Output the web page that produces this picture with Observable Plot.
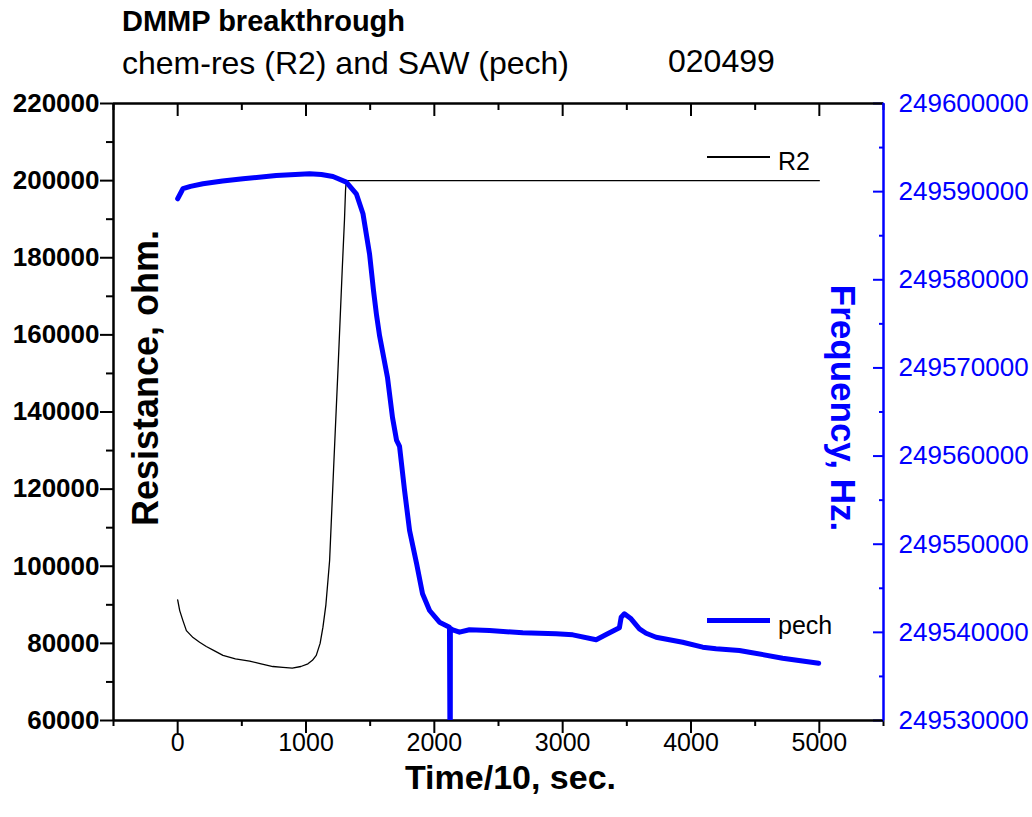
<!DOCTYPE html>
<html>
<head>
<meta charset="utf-8">
<script src="https://cdn.jsdelivr.net/npm/d3@7"></script>
<script src="https://cdn.jsdelivr.net/npm/@observablehq/plot@0.6"></script>
<style>
  html, body { margin: 0; padding: 0; background: #fff; }
  #wrap { position: relative; width: 1032px; height: 817px; font-family: "Liberation Sans", Arial, sans-serif; }
  #wrap svg { position: absolute; left: 0; top: 0; }
  .t { position: absolute; white-space: nowrap; line-height: 1; }
  .sw { position: absolute; }
</style>
</head>
<body>
<div id="wrap">
  <div class="t" style="left:122px; top:7px; font-size:29px; font-weight:bold; color:#000;">DMMP breakthrough</div>
  <div class="t" style="left:122px; top:47px; font-size:32px; color:#000;">chem-res (R2) and SAW (pech)</div>
  <div class="t" style="left:668px; top:45px; font-size:32px; color:#000;">020499</div>
</div>
<script>
// ---- data ----
const timeR2 = [0, 16, 41, 68, 120, 171, 223, 280, 353, 450, 561, 650, 742, 820, 893, 960, 1015, 1050, 1080, 1110, 1132, 1155, 1171, 1184, 1215, 1249, 1282, 1300, 1308, 1314, 5000];
const ohmR2  = [91300, 88500, 85900, 83300, 81500, 80300, 79200, 78200, 76900, 76000, 75400, 74700, 74000, 73800, 73600, 74000, 74700, 75600, 76900, 80000, 84200, 90000, 96300, 101500, 125300, 150800, 176700, 190000, 197500, 200000, 200000];

const timePech = [0, 41, 100, 197, 350, 509, 768, 1028, 1120, 1210, 1314, 1392, 1444, 1495, 1526, 1550, 1573, 1635, 1674, 1706, 1729, 1768, 1807, 1862, 1908, 1963, 2040, 2118, 2124, 2125, 2144, 2196, 2274, 2430, 2689, 2949, 3079, 3261, 3339, 3442, 3456, 3481, 3533, 3598, 3650, 3728, 3935, 4091, 4195, 4377, 4455, 4714, 4995];
const hzPech = [249589190, 249590330, 249590600, 249590890, 249591200, 249591460, 249591840, 249592030, 249591950, 249591720, 249591080, 249589760, 249587490, 249582950, 249578790, 249575950, 249573680, 249568920, 249564380, 249561770, 249561090, 249556100, 249551560, 249547780, 249544380, 249542480, 249541150, 249540590, 249520000, 249540450, 249540290, 249540020, 249540290, 249540210, 249539950, 249539840, 249539720, 249539160, 249539760, 249540520, 249541720, 249542110, 249541540, 249540400, 249539900, 249539450, 249538880, 249538320, 249538140, 249537940, 249537750, 249537070, 249536500];

const xMajor = [0, 1000, 2000, 3000, 4000, 5000];
const xMinor = [-500, 500, 1500, 2500, 3500, 4500, 5500];
const yMajor = [60000, 80000, 100000, 120000, 140000, 160000, 180000, 200000, 220000];
const yMinor = [70000, 90000, 110000, 130000, 150000, 170000, 190000, 210000];
const fMajor = [249530000, 249540000, 249550000, 249560000, 249570000, 249580000, 249590000, 249600000];
const fMinor = [249535000, 249545000, 249555000, 249565000, 249575000, 249585000, 249595000];

const xDomain = [-500, 5500];
const rDomain = [60000, 220000];
const fDomain = [249530000, 249600000];

// map frequency onto the resistance scale (dual axis)
const fToR = f => rDomain[0] + (f - fDomain[0]) * (rDomain[1] - rDomain[0]) / (fDomain[1] - fDomain[0]);
const rToF = r => Math.round(fDomain[0] + (r - rDomain[0]) * (fDomain[1] - fDomain[0]) / (rDomain[1] - rDomain[0]));

const r2 = timeR2.map((t, i) => ({t, r: ohmR2[i]}));
const pech = timePech.map((t, i) => ({t, f: hzPech[i]}));

const FONT = '"Liberation Sans", Arial, sans-serif';
const blank = () => "";

const chart = Plot.plot({
  width: 1032,
  height: 817,
  marginTop: 103,
  marginBottom: 97,
  marginLeft: 113,
  marginRight: 149,
  x: {domain: xDomain},
  y: {domain: rDomain},
  style: {fontFamily: FONT, background: "transparent", overflow: "visible"},
  marks: [
    // bottom axis
    Plot.axisX(xMinor, {anchor: "bottom", tickSize: 6, strokeWidth: 2, tickFormat: blank, label: null}),
    Plot.axisX(xMajor, {anchor: "bottom", tickSize: 13, strokeWidth: 2, tickPadding: 0, fontSize: 25, tickFormat: d => String(d), label: null, fill: "black"}),
    // top axis (inward ticks)
    Plot.axisX(xMinor, {anchor: "top", tickSize: -6, strokeWidth: 2, tickFormat: blank, label: null}),
    Plot.axisX(xMajor, {anchor: "top", tickSize: -12, strokeWidth: 2, tickFormat: blank, label: null}),
    // left axis
    Plot.axisY(yMinor, {anchor: "left", tickSize: 7, strokeWidth: 2, tickFormat: blank, label: null}),
    Plot.axisY(yMajor, {anchor: "left", tickSize: 13, strokeWidth: 2, tickPadding: 1, fontSize: 26, fontWeight: "bold", tickFormat: d => String(d), label: null, fill: "black"}),
    // right axis (frequency)
    Plot.axisY(fMinor.map(fToR), {anchor: "right", tickSize: -5, strokeWidth: 2, stroke: "blue", tickFormat: blank, label: null}),
    Plot.axisY(fMajor.map(fToR), {anchor: "right", tickSize: -11, strokeWidth: 2, stroke: "blue", tickFormat: blank, label: null}),
    Plot.axisY(fMajor.map(fToR), {anchor: "right", tickSize: 0, tickPadding: 15, fontSize: 26, fill: "blue", tickFormat: d => String(rToF(d)), label: null}),
    // axis lines
    Plot.ruleY([rDomain[0]], {stroke: "black", strokeWidth: 2.5}),
    Plot.ruleY([rDomain[1]], {stroke: "black", strokeWidth: 2.5}),
    Plot.ruleX([xDomain[0]], {stroke: "black", strokeWidth: 2.5}),
    Plot.ruleX([xDomain[1]], {stroke: "blue", strokeWidth: 2.5}),
    // series
    Plot.line(r2, {x: "t", y: "r", stroke: "black", strokeWidth: 1.3}),
    Plot.line(pech, {x: "t", y: d => fToR(d.f), stroke: "blue", strokeWidth: 5, clip: true}),
    // axis titles
    Plot.text(["Time/10, sec."], {frameAnchor: "bottom", textAnchor: "middle", lineAnchor: "middle", dx: 12, dy: 58, fontSize: 34, fontWeight: "bold", fill: "black"}),
    Plot.text(["Resistance, ohm."], {frameAnchor: "left", textAnchor: "middle", lineAnchor: "middle", dx: 33, dy: -34, rotate: -90, fontSize: 36, fontWeight: "bold", fill: "black"}),
    Plot.text(["Frequency, Hz."], {frameAnchor: "right", textAnchor: "middle", lineAnchor: "middle", dx: -41, dy: -4, rotate: 90, fontSize: 35, fontWeight: "bold", fill: "blue"})
  ]
});

const wrap = document.getElementById("wrap");
wrap.insertBefore(chart, wrap.firstChild);

// legend (inside the plot)
const legend = [
  {label: "R2", color: "black", width: 1.3, lineTop: 157, textTop: 149},
  {label: "pech", color: "blue", width: 5, lineTop: 620, textTop: 613}
];
for (const item of legend) {
  const sw = document.createElement("div");
  sw.className = "sw";
  sw.style.left = "707px";
  sw.style.width = "63px";
  sw.style.top = (item.lineTop - item.width / 2) + "px";
  sw.style.height = item.width + "px";
  sw.style.background = item.color;
  wrap.appendChild(sw);
  const tx = document.createElement("div");
  tx.className = "t";
  tx.style.left = "778px";
  tx.style.top = item.textTop + "px";
  tx.style.fontSize = "25px";
  tx.style.color = "#000";
  tx.textContent = item.label;
  wrap.appendChild(tx);
}
</script>
</body>
</html>
